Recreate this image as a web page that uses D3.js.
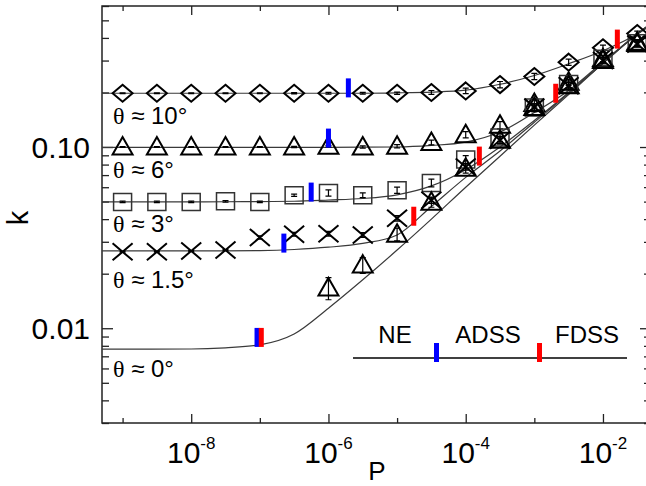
<!DOCTYPE html>
<html>
<head>
<meta charset="utf-8">
<script src="https://cdn.jsdelivr.net/npm/d3@7/dist/d3.min.js"></script>
<style>
  body { margin: 0; background: #fff; }
  text { font-family: "Liberation Sans", Arial, sans-serif; fill: #000; }
</style>
</head>
<body>
<div id="chart"></div>
<script>
// measured P values of the markers (half-decade steps)
const pointP = [1e-9, 3.16e-9, 1e-8, 3.16e-8, 1e-7, 3.16e-7, 1e-6, 3.16e-6,
  1e-5, 3.16e-5, 1e-4, 3.16e-4, 1e-3, 3.16e-3, 1e-2, 3.16e-2];

// k for each tilt angle (null = no point)
const k10 = [0.198, 0.198, 0.198, 0.198, 0.198, 0.198, 0.198, 0.198, 0.198, 0.200, 0.204, 0.221, 0.245, 0.294, 0.353, 0.423];
const k6 = [0.100, 0.100, 0.100, 0.100, 0.100, 0.100, 0.101, 0.100, 0.101, 0.106, 0.117, 0.132, 0.174, 0.228, 0.307, 0.378];
const k3 = [0.0498, 0.0498, 0.0498, 0.0502, 0.0498, 0.0542, 0.0558, 0.0542, 0.0578, 0.0634, 0.0853, 0.113, 0.165, 0.223, 0.307, 0.374];
const k15 = [0.0264, 0.0264, 0.0267, 0.0270, 0.0317, 0.0330, 0.0332, 0.0327, 0.0404, 0.0509, 0.0776, 0.109, 0.166, 0.218, 0.300, 0.370];
const k0 = [null, null, null, null, null, null, 0.0167, 0.0223, 0.0330, 0.0495, 0.0764, 0.109, 0.165, 0.218, 0.300, 0.372];

// relative error (half width) of each point
const e10 = [0.004, 0.004, 0.004, 0.004, 0.006, 0.008, 0.01, 0.012, 0.015, 0.025, 0.035, 0.04, 0.04, 0.04, 0.035, 0.03];
const e6 = [0.004, 0.004, 0.005, 0.005, 0.006, 0.008, 0.01, 0.015, 0.02, 0.03, 0.04, 0.045, 0.045, 0.04, 0.04, 0.035];
const e3 = [0.01, 0.01, 0.01, 0.01, 0.01, 0.015, 0.04, 0.03, 0.04, 0.05, 0.05, 0.05, 0.05, 0.05, 0.04, 0.04];
const e15 = [0.004, 0.004, 0.005, 0.005, 0.02, 0.025, 0.03, 0.03, 0.035, 0.04, 0.04, 0.04, 0.04, 0.04, 0.04, 0.04];
const e0 = [null, null, null, null, null, null, 0.14, 0.10, 0.08, 0.06, 0.06, 0.05, 0.05, 0.05, 0.04, 0.04];

// fitted curves
const curveP = [5.01e-10, 1e-9, 1e-8, 3.16e-8, 1e-7, 3.16e-7, 1e-6, 3.16e-6, 1e-5,
  3.16e-5, 1e-4, 3.16e-4, 1e-3, 3.16e-3, 1e-2, 3.16e-2, 5.01e-2];
const fit10 = [0.198, 0.198, 0.198, 0.198, 0.198, 0.198, 0.198, 0.198, 0.199, 0.201, 0.206, 0.222, 0.248, 0.288, 0.340, 0.420, 0.470];
const fit6 = [0.0996, 0.0996, 0.0996, 0.0996, 0.0996, 0.0996, 0.0996, 0.0998, 0.100, 0.102, 0.1065, 0.121, 0.155, 0.205, 0.295, 0.420, 0.480];
const fit3 = [0.0498, 0.0498, 0.0498, 0.0499, 0.0500, 0.0502, 0.0510, 0.0520, 0.0545, 0.061, 0.075, 0.100, 0.140, 0.200, 0.290, 0.420, 0.480];
const fit15 = [0.0267, 0.0267, 0.0267, 0.0267, 0.0268, 0.0272, 0.0280, 0.0294, 0.0327, 0.047, 0.068, 0.095, 0.137, 0.198, 0.290, 0.420, 0.480];
const fit0 = [0.00766, 0.00766, 0.00768, 0.0078, 0.0081, 0.0093, 0.0129, 0.0185, 0.027, 0.040, 0.060, 0.089, 0.132, 0.195, 0.290, 0.420, 0.480];

// regime boundaries (blue: NE/ADSS, red: ADSS/FDSS), order 0, 1.5, 3, 6, 10 deg
const blueP = [9.1e-8, 2.24e-7, 5.6e-7, 1.0e-6, 1.95e-6];
const blueK = [0.0089, 0.0295, 0.0564, 0.112, 0.212];
const redP = [1.05e-7, 1.75e-5, 1.58e-4, 2.05e-3, 1.62e-2];
const redK = [0.0089, 0.0415, 0.0891, 0.198, 0.394];

const thetaLabels = ["10", "6", "3", "1.5", "0"];
const legendLabels = ["NE", "ADSS", "FDSS"];
const xMajor = [1e-8, 1e-6, 1e-4, 1e-2];
const xMinor = [1e-9, 1e-7, 1e-5, 1e-3, 1e-1];
const yMajor = [0.01, 0.1];
const yMajorLabels = ["0.01", "0.10"];

const width = 646;
const height = 486;
const margin = { left: 102, right: -5, top: 6, bottom: 63 };

const svg = d3.select("#chart")
  .append("svg")
  .attr("width", width)
  .attr("height", height)
  .style("background", "#ffffff");

const x = d3.scaleLog().domain([Math.pow(10, -9.3), Math.pow(10, -1.3)])
  .range([margin.left, width - margin.right]);
const y = d3.scaleLog().domain([0.003, 0.6])
  .range([height - margin.bottom, margin.top]);

const x0 = margin.left, x1 = width - margin.right;
const y0 = height - margin.bottom, y1 = margin.top;

// minor y ticks: 2..9 times each decade inside the domain
const yMinor = [];
[0.001, 0.01, 0.1].forEach(d => {
  for (let m = 2; m <= 9; m++) {
    const v = +(d * m).toPrecision(3);
    if (v >= 0.003 && v <= 0.6) yMinor.push(v);
  }
});

// ---- axes ----
const axisColor = "#222";
function styleAxis(g) {
  g.select(".domain").remove();
  g.selectAll("line").attr("stroke", axisColor).attr("stroke-width", 1.3);
}

svg.append("g").attr("transform", `translate(0,${y0})`)
  .call(d3.axisBottom(x).tickValues(xMajor).tickSize(-9).tickFormat(""))
  .call(styleAxis);
svg.append("g").attr("transform", `translate(0,${y0})`)
  .call(d3.axisBottom(x).tickValues(xMinor).tickSize(-5).tickFormat(""))
  .call(styleAxis);
svg.append("g").attr("transform", `translate(0,${y1})`)
  .call(d3.axisTop(x).tickValues(xMajor).tickSize(-9).tickFormat(""))
  .call(styleAxis);
svg.append("g").attr("transform", `translate(0,${y1})`)
  .call(d3.axisTop(x).tickValues(xMinor).tickSize(-5).tickFormat(""))
  .call(styleAxis);

svg.append("g").attr("transform", `translate(${x0},0)`)
  .call(d3.axisLeft(y).tickValues(yMajor).tickSize(-11).tickFormat(""))
  .call(styleAxis);
svg.append("g").attr("transform", `translate(${x0},0)`)
  .call(d3.axisLeft(y).tickValues(yMinor).tickSize(-7).tickFormat(""))
  .call(styleAxis);
svg.append("g").attr("transform", `translate(${x1},0)`)
  .call(d3.axisRight(y).tickValues(yMajor).tickSize(-11).tickFormat(""))
  .call(styleAxis);
svg.append("g").attr("transform", `translate(${x1},0)`)
  .call(d3.axisRight(y).tickValues(yMinor).tickSize(-7).tickFormat(""))
  .call(styleAxis);

// frame
svg.append("rect")
  .attr("x", x0).attr("y", y1)
  .attr("width", x1 - x0).attr("height", y0 - y1)
  .attr("fill", "none")
  .attr("stroke", axisColor)
  .attr("stroke-width", 1.5);

// tick labels
yMajor.forEach((v, i) => {
  svg.append("text")
    .attr("x", x0 - 12)
    .attr("y", y(v))
    .attr("dy", "0.36em")
    .attr("text-anchor", "end")
    .style("font-size", "30px")
    .text(yMajorLabels[i]);
});

xMajor.forEach(v => {
  const t = svg.append("text")
    .attr("x", x(v))
    .attr("y", 463)
    .attr("text-anchor", "middle")
    .style("font-size", "30px");
  t.append("tspan").text("10");
  t.append("tspan")
    .attr("dy", -14)
    .style("font-size", "17px")
    .text(String(Math.round(Math.log10(v))));
});

svg.append("text")
  .attr("x", 377).attr("y", 480)
  .attr("text-anchor", "middle")
  .style("font-size", "26px")
  .text("P");

svg.append("text")
  .attr("transform", "translate(28,218) rotate(-90)")
  .attr("text-anchor", "middle")
  .style("font-size", "29px")
  .text("k");

// ---- fitted curves ----
const fits = [fit10, fit6, fit3, fit15, fit0];
const line = d3.line()
  .x(d => x(d[0]))
  .y(d => y(d[1]))
  .curve(d3.curveMonotoneX);

const plot = svg.append("g");
plot.append("clipPath").attr("id", "clip")
  .append("rect").attr("x", x0).attr("y", y1)
  .attr("width", x1 - x0).attr("height", y0 - y1);

const inner = plot.append("g").attr("clip-path", "url(#clip)");

fits.forEach(f => {
  inner.append("path")
    .datum(curveP.map((p, i) => [p, f[i]]))
    .attr("d", line)
    .attr("fill", "none")
    .attr("stroke", "#3a3a3a")
    .attr("stroke-width", 1.2);
});

// ---- markers ----
const shapes = {
  diamond: "M0,-8.5L10,0L0,8.5L-10,0Z",
  triangle: "M0,-10L10,7.5L-10,7.5Z",
  square: "M-9,-8.5H9V8.5H-9Z",
  cross: "M-10,-8.5L10,8.5M-10,8.5L10,-8.5"
};

const series = [
  { k: k10, e: e10, shape: "diamond", color: "#000", sw: 2 },
  { k: k6, e: e6, shape: "triangle", color: "#000", sw: 2 },
  { k: k3, e: e3, shape: "square", color: "#333", sw: 1.5 },
  { k: k15, e: e15, shape: "cross", color: "#000", sw: 2 },
  { k: k0, e: e0, shape: "triangle", color: "#000", sw: 2 }
];

series.forEach(s => {
  const pts = pointP.map((p, i) => ({ p, k: s.k[i], e: s.e[i] }))
    .filter(d => d.k != null);
  const g = inner.append("g");

  // error bars
  pts.forEach(d => {
    const px = x(d.p);
    const ya = y(d.k * (1 + d.e));
    const yb = y(d.k * (1 - d.e));
    g.append("path")
      .attr("d", `M${px - 3},${ya}H${px + 3}M${px},${ya}V${yb}M${px - 3},${yb}H${px + 3}`)
      .attr("fill", "none")
      .attr("stroke", "#000")
      .attr("stroke-width", 1.2);
  });

  g.selectAll("path.marker")
    .data(pts)
    .join("path")
    .attr("class", "marker")
    .attr("transform", d => `translate(${x(d.p)},${y(d.k)})`)
    .attr("d", shapes[s.shape])
    .attr("fill", "none")
    .attr("stroke", s.color)
    .attr("stroke-width", s.sw)
    .attr("stroke-linejoin", "miter");
});

// ---- regime boundary bars ----
function bars(ps, ks, color) {
  inner.selectAll(null)
    .data(ps.map((p, i) => [p, ks[i]]))
    .join("rect")
    .attr("x", d => x(d[0]) - 2.5)
    .attr("y", d => y(d[1]) - 9.5)
    .attr("width", 5)
    .attr("height", 19)
    .attr("fill", color);
}
bars(blueP, blueK, "#0000ff");
bars(redP, redK, "#ff0000");

// ---- theta labels ----
const labelY = [124, 178, 232, 288, 377];
thetaLabels.forEach((t, i) => {
  const txt = svg.append("text")
    .attr("x", 113)
    .attr("y", labelY[i])
    .style("font-size", "24px");
  txt.append("tspan")
    .style("font-family", "'Liberation Serif', 'DejaVu Serif', serif")
    .text("θ");
  txt.append("tspan").text(" ≈ " + t + "°");
});

// ---- regime legend ----
const legend = svg.append("g");
legend.append("line")
  .attr("x1", 353).attr("x2", 627)
  .attr("y1", 358).attr("y2", 358)
  .attr("stroke", "#000")
  .attr("stroke-width", 1.4);
const legendX = [395, 488, 587];
legendLabels.forEach((t, i) => {
  legend.append("text")
    .attr("x", legendX[i])
    .attr("y", 343)
    .attr("text-anchor", "middle")
    .style("font-size", "24px")
    .text(t);
});
legend.append("rect").attr("x", 434).attr("y", 343).attr("width", 5).attr("height", 19).attr("fill", "#0000ff");
legend.append("rect").attr("x", 537).attr("y", 343).attr("width", 5).attr("height", 19).attr("fill", "#ff0000");
</script>
</body>
</html>
